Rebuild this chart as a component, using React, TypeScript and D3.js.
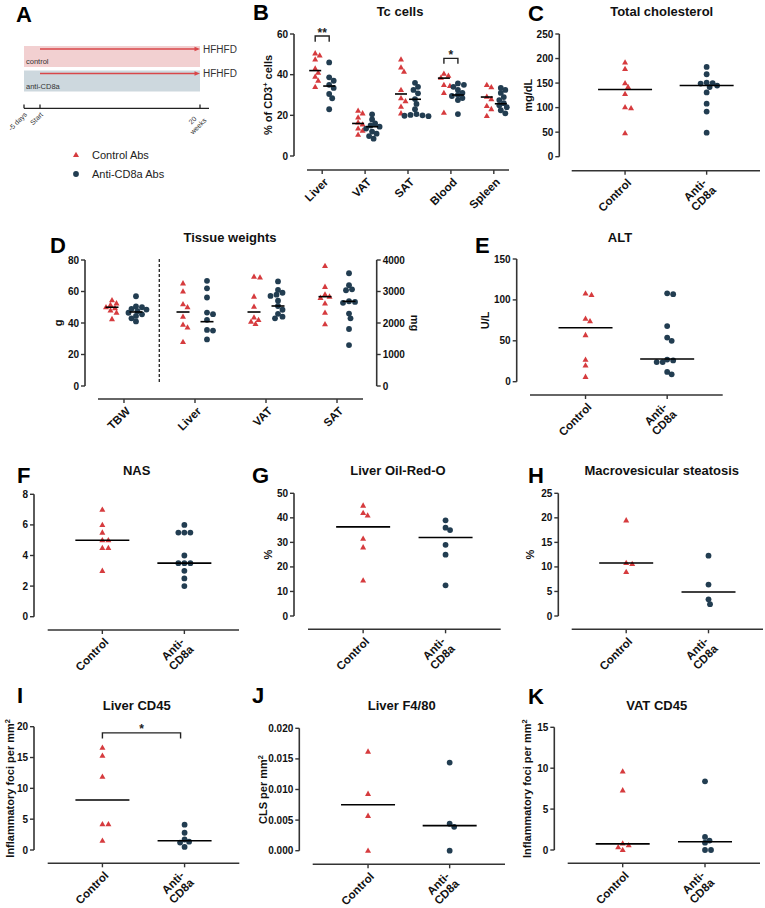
import React from "react";
import * as d3 from "d3";

// ---------------- DATA ----------------
const legendLabels = ["Control Abs", "Anti-CD8a Abs"];
const twoCats = ["Control", "Anti-CD8a"];
const twoCatLines = [["Control"], ["Anti-", "CD8a"]];

// B: Tc cells (% of CD3+ cells)
const tcCats = ["Liver", "VAT", "SAT", "Blood", "Spleen"];
const tcControl = [
  [50.5, 49.5, 47.5, 43, 41, 39, 37, 34],
  [22.3, 21, 19, 16.5, 15.5, 13.6, 12.5, 10.5],
  [47.5, 43.6, 41.5, 32.5, 28.4, 27, 24.3, 21],
  [40.5, 39.5, 38.5, 35, 34.5, 31, 21.3],
  [35, 33.8, 29.2, 28, 24.6, 23.1, 19.7],
];
const tcAnti = [
  [46, 38.7, 37, 35, 33.5, 30.5, 28.4, 23],
  [20.5, 18, 16, 15, 14.4, 13.5, 12, 11, 9.8, 8.5],
  [36, 34, 32.5, 30.8, 28, 25.6, 23, 20.6, 20.2, 20, 19.8, 19.6],
  [35.7, 35, 34, 32.5, 31, 30, 29.5, 28.5, 27.5, 20.6],
  [33.5, 32.5, 31, 29, 27.5, 26, 25, 24, 22.5, 21],
];
const tcControlMedian = [42, 16, 30.5, 38.3, 29];
const tcAntiMedian = [34.4, 14.4, 27.9, 30, 25.7];
const tcTicks = [0, 20, 40, 60];
const tcBracketCats = ["Liver", "Blood"];
const tcBracketTop = [59, 48];
const tcBracketLeg = [56.2, 45.4];
const tcBracketLabels = ["**", "*"];

// C: Total cholesterol
const cholControl = [192, 179, 150, 142, 128, 101, 99, 48];
const cholAnti = [183, 168, 151, 150, 149, 145, 142, 131, 108, 92, 49];
const cholMedians = [137, 145];
const cholTicks = [0, 50, 100, 150, 200, 250];

// D: Tissue weights (TBW in g, organs in mg)
const twCats = ["TBW", "Liver", "VAT", "SAT"];
const twControl = [
  [54.5, 52.5, 51.5, 50, 49.5, 48, 46.5, 42.5],
  [3260, 3000, 2600, 2500, 2200, 1950, 1860, 1400],
  [3470, 3450, 2840, 2520, 2180, 2100, 2040, 1970],
  [3810, 3150, 2910, 2840, 2800, 2620, 2330, 1960],
];
const twAnti = [
  [57, 50.5, 50, 49, 48.5, 47.5, 46.5, 45.5, 44.5, 43, 41],
  [3340, 3100, 2810, 2330, 2280, 2100, 1780, 1760, 1480],
  [3320, 3050, 2960, 2900, 2860, 2710, 2540, 2420, 2290, 2200, 2150],
  [3580, 3200, 3070, 3040, 2690, 2670, 2640, 2300, 2150, 1810, 1300],
];
const twControlMedian = [50, 2349, 2349, 2836];
const twAntiMedian = [47, 2042, 2540, 2687];
const twTicksG = [0, 20, 40, 60, 80];
const twTicksMg = [0, 1000, 2000, 3000, 4000];

// E: ALT
const altControl = [108, 106, 77, 74, 57, 27, 20, 6];
const altAnti = [108, 107, 68, 54, 50, 27, 26, 24, 24, 12, 9];
const altMedians = [66, 27.7];
const altTicks = [0, 50, 100, 150];

// F: NAS
const nasControl = [7, 6, 5.5, 5, 5, 4.5, 4.5, 3];
const nasAnti = [6, 5.5, 5.5, 5.5, 4, 3.5, 3.5, 3.5, 3, 2.5, 2];
const nasMedians = [5, 3.5];
const nasTicks = [0, 2, 4, 6, 8];

// G: Liver Oil-Red-O
const oroControl = [45, 42, 41, 31.5, 28, 14.5];
const oroAnti = [39, 36, 35, 29, 25, 12.5];
const oroMedians = [36.3, 32];
const oroTicks = [0, 10, 20, 30, 40, 50];

// H: Macrovesicular steatosis
const macroControl = [19.5, 10.8, 10.6, 9];
const macroAnti = [12.3, 6.4, 3.4, 2.4];
const macroMedians = [10.8, 4.9];
const macroTicks = [0, 5, 10, 15, 20, 25];

// I: Liver CD45
const lcd45Control = [16.6, 15.3, 11.9, 4.2, 4.2, 1.5];
const lcd45Anti = [4.1, 2.8, 1.7, 1.35, 1.2, 0.5];
const lcd45Medians = [8.1, 1.5];
const lcd45Ticks = [0, 5, 10, 15, 20];
const lcd45BracketTop = 19;
const lcd45BracketLeg = 18.1;

// J: Liver F4/80
const f480Control = [0.0162, 0.0093, 0.0057, 0];
const f480Anti = [0.0144, 0.0044, 0.0039, 0];
const f480Medians = [0.0075, 0.0041];
const f480Ticks = [0, 0.005, 0.01, 0.015, 0.02];

// K: VAT CD45
const vcd45Control = [9.6, 7.3, 0.8, 0.6, 0.35, 0];
const vcd45Anti = [8.4, 1.6, 1.15, 0.9, 0, 0];
const vcd45Medians = [0.75, 1.0];
const vcd45Ticks = [0, 5, 10, 15];

// ---------------- STYLE ----------------
const RED = "#d63b3e";
const NAVY = "#223d51";
const AX = "#333333";
const FONT = '"Liberation Sans", Arial, Helvetica, sans-serif';
const R = 2.9;
const XLAB = 11.5;

function swarm(ys: number[], cx: number, r: number, step = 1.5): number[] {
  const idx = ys.map((_, i) => i).sort((a, b) => ys[a] - ys[b]);
  const placed: [number, number][] = [];
  const xs: number[] = new Array(ys.length).fill(cx);
  const minD = 2 * r * 0.85;
  for (const i of idx) {
    const yv = ys[i];
    for (let k = 0; k < 120; k++) {
      const off = k === 0 ? 0 : Math.ceil(k / 2) * step * (k % 2 === 1 ? 1 : -1);
      const xv = cx + off;
      if (placed.every(([px, py]) => (px - xv) ** 2 + (py - yv) ** 2 >= minD * minD - 0.01)) {
        xs[i] = xv;
        break;
      }
    }
    placed.push([xs[i], yv]);
  }
  return xs;
}

function Marker({ shape, x, y }: { shape: string; x: number; y: number }) {
  if (shape === "tri")
    return <path d={`M${x},${y - 3.2} L${x + 3},${y + 2.1} L${x - 3},${y + 2.1} Z`} fill={RED} />;
  return <circle cx={x} cy={y} r={R} fill={NAVY} />;
}

type Series = { shape: string; values: number[][]; medians: number[]; offset: number };
type Cfg = {
  letter: string; lx: number; ly: number;
  title: string; tx: number; ty: number;
  ax: number; yTop: number; yBot: number; yMax: number; yTicks: number[];
  fmt?: (v: number) => string;
  ylab?: React.ReactNode; ylabX?: number;
  xy: number; xr: [number, number]; xpad: number;
  cats: string[]; catLines: string[][];
  series: Series[]; medHalf: number;
  right?: { x: number; max: number; ticks: number[]; lab: string; labX: number; cats: string[] };
  children?: (x: d3.ScalePoint<string>, y: d3.ScaleLinear<number, number>) => React.ReactNode;
};

function Panel(p: Cfg) {
  const y = d3.scaleLinear().domain([0, p.yMax]).range([p.yBot, p.yTop]);
  const yR = p.right ? d3.scaleLinear().domain([0, p.right.max]).range([p.yBot, p.yTop]) : null;
  const x = d3.scalePoint<string>().domain(p.cats).range(p.xr).padding(p.xpad);
  const fmt = p.fmt || d3.format("d");
  const midY = (p.yTop + p.yBot) / 2;
  return (
    <g>
      <text x={p.lx} y={p.ly} fontSize={22} fontWeight="bold" fill="#000">{p.letter}</text>
      <text x={p.tx} y={p.ty} fontSize={13} fontWeight="bold" textAnchor="middle" fill="#111">{p.title}</text>
      <line x1={p.ax} x2={p.ax} y1={p.yBot} y2={p.yTop} stroke={AX} strokeWidth={1.6} />
      {p.yTicks.map((t) => (
        <g key={"yt" + t}>
          <line x1={p.ax - 4} x2={p.ax} y1={y(t)} y2={y(t)} stroke={AX} strokeWidth={1.4} />
          <text x={p.ax - 6} y={y(t)} dy="0.35em" textAnchor="end" fontSize={10} fontWeight="bold" fill="#111">{fmt(t)}</text>
        </g>
      ))}
      {p.ylab && (
        <text transform={`translate(${p.ylabX},${midY}) rotate(-90)`} textAnchor="middle" dy="0.35em" fontSize={11} fontWeight="bold" fill="#111">{p.ylab}</text>
      )}
      {p.right && yR && (
        <g>
          <line x1={p.right.x} x2={p.right.x} y1={p.yBot} y2={p.yTop} stroke={AX} strokeWidth={1.6} />
          {p.right.ticks.map((t) => (
            <g key={"rt" + t}>
              <line x1={p.right!.x} x2={p.right!.x + 4} y1={yR(t)} y2={yR(t)} stroke={AX} strokeWidth={1.4} />
              <text x={p.right!.x + 6} y={yR(t)} dy="0.35em" textAnchor="start" fontSize={10} fontWeight="bold" fill="#111">{d3.format("d")(t)}</text>
            </g>
          ))}
          <text transform={`translate(${p.right.labX},${midY}) rotate(90)`} textAnchor="middle" dy="0.35em" fontSize={11} fontWeight="bold" fill="#111">{p.right.lab}</text>
        </g>
      )}
      <line x1={p.xr[0]} x2={p.xr[1]} y1={p.xy} y2={p.xy} stroke={AX} strokeWidth={1.6} />
      {p.cats.map((c, i) => {
        const cx = x(c)!;
        const lines = p.catLines[i];
        return (
          <g key={"xc" + c}>
            <line x1={cx} x2={cx} y1={p.xy} y2={p.xy + 4} stroke={AX} strokeWidth={1.4} />
            <g transform={`translate(${cx + 4},${p.xy + 10}) rotate(-45)`}>
              {lines.length === 1 ? (
                <text textAnchor="end" dy="0.35em" fontSize={XLAB} fontWeight="bold" fill="#111">{lines[0]}</text>
              ) : (
                lines.map((ln, j) => (
                  <text key={j} x={j === 0 ? -4.5 : -3} y={j === 0 ? -4.5 : 7.5} textAnchor="end" dy="0.35em" fontSize={XLAB} fontWeight="bold" fill="#111">{ln}</text>
                ))
              )}
            </g>
          </g>
        );
      })}
      {p.cats.map((c, ci) => {
        const sc = p.right && yR && p.right.cats.includes(c) ? yR : y;
        return p.series.map((s, si) => {
          const cx = x(c)! + s.offset;
          const ys = s.values[ci].map((v) => sc(v));
          const xs = swarm(ys, cx, R);
          const my = sc(s.medians[ci]);
          return (
            <g key={`d${ci}-${si}`}>
              {ys.map((yy, k) => (
                <Marker key={k} shape={s.shape} x={xs[k]} y={yy} />
              ))}
              <line x1={cx - p.medHalf} x2={cx + p.medHalf} y1={my} y2={my} stroke="#000" strokeWidth={1.6} />
            </g>
          );
        });
      })}
      {p.children && p.children(x, y)}
    </g>
  );
}

function Sup({ base, sup, rest }: { base: string; sup: string; rest?: string }) {
  return (
    <>
      {base}
      <tspan dy={-4} fontSize={7.5}>{sup}</tspan>
      {rest !== undefined && <tspan dy={4}>{rest}</tspan>}
    </>
  );
}

function PanelA() {
  const arrowRed = "#d9474a";
  const bands = [
    { label: "control", fill: "#f2d0d1", y: 46 },
    { label: "anti-CD8a", fill: "#cdd8de", y: 70.5 },
  ];
  const ticks = [
    { pos: 24, lines: ["-5 days"] },
    { pos: 40, lines: ["Start"] },
    { pos: 200, lines: ["20", "weeks"] },
  ];
  return (
    <g>
      <text x={16} y={21.5} fontSize={22} fontWeight="bold">A</text>
      {bands.map((b) => (
        <g key={b.label}>
          <rect x={24} y={b.y} width={176} height={21} fill={b.fill} />
          <line x1={40} x2={196} y1={b.y + 3} y2={b.y + 3} stroke={arrowRed} strokeWidth={1.3} />
          <path d={`M200,${b.y + 3} L194.5,${b.y + 0.8} L194.5,${b.y + 5.2} Z`} fill={arrowRed} />
          <text x={26} y={b.y + 18} fontSize={7.5} fill="#333">{b.label}</text>
          <text x={203} y={b.y + 6.5} fontSize={10} fill="#333">HFHFD</text>
        </g>
      ))}
      <line x1={24} x2={209} y1={108.3} y2={108.3} stroke="#222" strokeWidth={1.3} />
      {ticks.map((t) => (
        <g key={t.pos}>
          <line x1={t.pos} x2={t.pos} y1={104.5} y2={108.3} stroke="#222" strokeWidth={1.3} />
          <g transform={`translate(${t.pos},108) rotate(-45)`}>
            {t.lines.length === 1 ? (
              <text x={-2.5} y={5} dy="0.35em" textAnchor="end" fontSize={7} fill="#333">{t.lines[0]}</text>
            ) : (
              t.lines.map((ln, j) => (
                <text key={j} x={-14} y={j === 0 ? 3.5 : 11.5} dy="0.35em" textAnchor="middle" fontSize={7} fill="#333">{ln}</text>
              ))
            )}
          </g>
        </g>
      ))}
      {legendLabels.map((l, i) => (
        <g key={l} transform={`translate(76,${155 + i * 19})`}>
          <Marker shape={i === 0 ? "tri" : "dot"} x={0} y={0} />
          <text x={16} y={0} dy="0.35em" fontSize={11} fill="#222">{l}</text>
        </g>
      ))}
    </g>
  );
}

function TwoGroupPanel(p: Omit<Cfg, "series" | "cats" | "catLines" | "medHalf"> & { ctrl: number[]; anti: number[]; med: number[] }) {
  const cfg: Cfg = { ...p, cats: twoCats, catLines: twoCatLines, medHalf: 27, series: [], children: undefined };
  const y = d3.scaleLinear().domain([0, p.yMax]).range([p.yBot, p.yTop]);
  const x = d3.scalePoint<string>().domain(twoCats).range(p.xr).padding(p.xpad);
  const groups = [
    { shape: "tri", vals: p.ctrl, med: p.med[0], cat: twoCats[0] },
    { shape: "dot", vals: p.anti, med: p.med[1], cat: twoCats[1] },
  ];
  return (
    <g>
      <Panel {...cfg} />
      {groups.map((g) => {
        const cx = x(g.cat)!;
        const ys = g.vals.map((v) => y(v));
        const xs = swarm(ys, cx, R);
        return (
          <g key={g.cat}>
            {ys.map((yy, k) => (
              <Marker key={k} shape={g.shape} x={xs[k]} y={yy} />
            ))}
            <line x1={cx - 27} x2={cx + 27} y1={y(g.med)} y2={y(g.med)} stroke="#000" strokeWidth={1.6} />
          </g>
        );
      })}
      {p.children && p.children(x, y)}
    </g>
  );
}

export default function App() {
  const mm2 = <Sup base="Inflammatory foci per mm" sup="2" />;
  return (
    <div style={{ position: "absolute", left: 0, top: 0, background: "#fff" }}>
      <svg width={765} height={908} style={{ display: "block", fontFamily: FONT }}>
        <rect width={765} height={908} fill="#fff" />
        <PanelA />
        <Panel
          letter="B" lx={253} ly={20} title="Tc cells" tx={400} ty={16}
          ax={294} yTop={34} yBot={156} yMax={60} yTicks={tcTicks}
          ylab={<Sup base="% of CD3" sup="+" rest=" cells" />} ylabX={268}
          xy={170} xr={[307, 509]} xpad={0.354}
          cats={tcCats} catLines={tcCats.map((c) => [c])}
          medHalf={6}
          series={[
            { shape: "tri", values: tcControl, medians: tcControlMedian, offset: -7 },
            { shape: "dot", values: tcAnti, medians: tcAntiMedian, offset: 7 },
          ]}
          children={(x, y) =>
            tcBracketCats.map((c, i) => {
              const x1 = x(c)! - 7;
              const x2 = x(c)! + 7;
              return (
                <g key={"br" + c}>
                  <path d={`M${x1},${y(tcBracketLeg[i])} V${y(tcBracketTop[i])} H${x2} V${y(tcBracketLeg[i])}`} fill="none" stroke="#222" strokeWidth={1.4} />
                  <text x={(x1 + x2) / 2} y={y(tcBracketTop[i]) + 0.5} textAnchor="middle" fontSize={12} fontWeight="bold" fill="#222">{tcBracketLabels[i]}</text>
                </g>
              );
            })
          }
        />
        <TwoGroupPanel
          letter="C" lx={528} ly={20.5} title="Total cholesterol" tx={661.7} ty={16}
          ax={559.3} yTop={34} yBot={156.7} yMax={250} yTicks={cholTicks}
          ylab="mg/dL" ylabX={528}
          xy={170.7} xr={[571.7, 760]} xpad={0.654}
          ctrl={cholControl} anti={cholAnti} med={cholMedians}
        />
        <Panel
          letter="D" lx={50} ly={253} title="Tissue weights" tx={230} ty={241.5}
          ax={85} yTop={260} yBot={386} yMax={80} yTicks={twTicksG}
          ylab="g" ylabX={58}
          right={{ x: 376.7, max: 4000, ticks: twTicksMg, lab: "mg", labX: 415, cats: twCats.slice(1) }}
          xy={399} xr={[98, 363]} xpad={0.366}
          cats={twCats} catLines={twCats.map((c) => [c])}
          medHalf={6.5}
          series={[
            { shape: "tri", values: twControl, medians: twControlMedian, offset: -12 },
            { shape: "dot", values: twAnti, medians: twAntiMedian, offset: 12 },
          ]}
          children={(x) => {
            const xd = (x(twCats[0])! + x(twCats[1])!) / 2 - 0.2;
            return <line x1={xd} x2={xd} y1={259} y2={382} stroke="#222" strokeWidth={1.3} strokeDasharray="3,2" />;
          }}
        />
        <TwoGroupPanel
          letter="E" lx={475} ly={253} title="ALT" tx={620} ty={241.5}
          ax={516.7} yTop={259} yBot={381.7} yMax={150} yTicks={altTicks}
          ylab="U/L" ylabX={485}
          xy={395} xr={[530, 722.7]} xpad={0.68}
          ctrl={altControl} anti={altAnti} med={altMedians}
        />
        <TwoGroupPanel
          letter="F" lx={17} ly={483} title="NAS" tx={136.7} ty={475}
          ax={34} yTop={494.3} yBot={616.7} yMax={8} yTicks={nasTicks}
          xy={630} xr={[47.7, 239]} xpad={0.666}
          ctrl={nasControl} anti={nasAnti} med={nasMedians}
        />
        <TwoGroupPanel
          letter="G" lx={252} ly={483} title="Liver Oil-Red-O" tx={398} ty={475}
          ax={294} yTop={493.3} yBot={616} yMax={50} yTicks={oroTicks}
          ylab="%" ylabX={268}
          xy={629.3} xr={[308, 500.7]} xpad={0.669}
          ctrl={oroControl} anti={oroAnti} med={oroMedians}
        />
        <TwoGroupPanel
          letter="H" lx={528} ly={483} title="Macrovesicular steatosis" tx={661.7} ty={475}
          ax={558.3} yTop={493.3} yBot={616} yMax={25} yTicks={macroTicks}
          ylab="%" ylabX={530}
          xy={629.3} xr={[571.7, 763]} xpad={0.662}
          ctrl={macroControl} anti={macroAnti} med={macroMedians}
        />
        <TwoGroupPanel
          letter="I" lx={17} ly={703} title="Liver CD45" tx={136.7} ty={710}
          ax={34} yTop={726.7} yBot={850} yMax={20} yTicks={lcd45Ticks}
          ylab={mm2} ylabX={10}
          xy={863.3} xr={[47.7, 239.3]} xpad={0.666}
          ctrl={lcd45Control} anti={lcd45Anti} med={lcd45Medians}
          children={(x, y) => {
            const x1 = x(twoCats[0])!;
            const x2 = x(twoCats[1])! - 4;
            return (
              <g>
                <path d={`M${x1},${y(lcd45BracketLeg)} V${y(lcd45BracketTop)} H${x2} V${y(lcd45BracketLeg)}`} fill="none" stroke="#222" strokeWidth={1.4} />
                <text x={(x1 + x2) / 2} y={y(lcd45BracketTop) + 0.5} textAnchor="middle" fontSize={12} fontWeight="bold" fill="#222">*</text>
              </g>
            );
          }}
        />
        <TwoGroupPanel
          letter="J" lx={252} ly={703} title="Liver F4/80" tx={401.7} ty={710}
          ax={299.3} yTop={728.3} yBot={850.7} yMax={0.02} yTicks={f480Ticks} fmt={d3.format(".3f")}
          ylab={<Sup base="CLS per mm" sup="2" />} ylabX={263}
          xy={864.3} xr={[312.7, 505]} xpad={0.678}
          ctrl={f480Control} anti={f480Anti} med={f480Medians}
        />
        <TwoGroupPanel
          letter="K" lx={528} ly={704} title="VAT CD45" tx={656.7} ty={710}
          ax={554.3} yTop={727.3} yBot={850} yMax={15} yTicks={vcd45Ticks}
          ylab={mm2} ylabX={527}
          xy={863.3} xr={[567.7, 760]} xpad={0.668}
          ctrl={vcd45Control} anti={vcd45Anti} med={vcd45Medians}
        />
      </svg>
    </div>
  );
}
